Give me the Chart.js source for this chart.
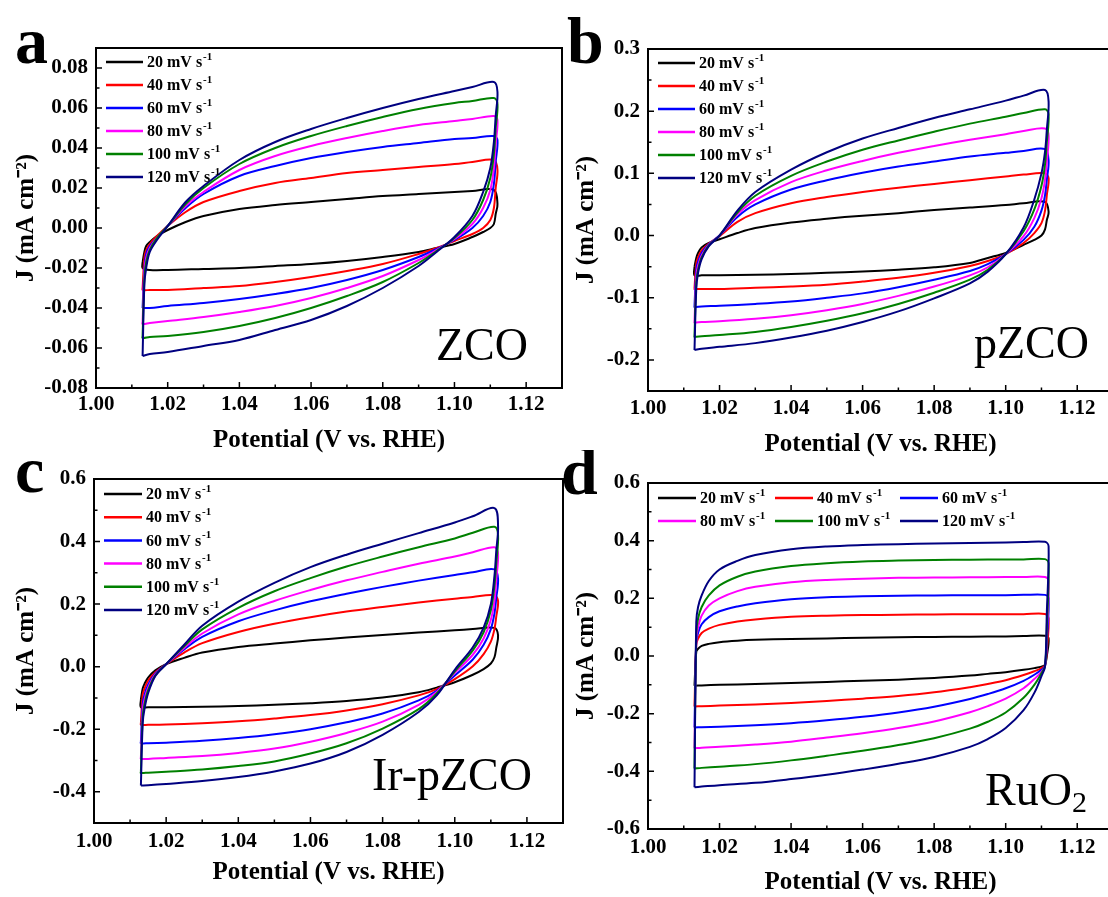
<!DOCTYPE html>
<html><head><meta charset="utf-8">
<script src="https://cdn.jsdelivr.net/npm/chart.js@4.4.1/dist/chart.umd.min.js"></script>
<style>
html,body{margin:0;padding:0;background:#fff;width:1108px;height:897px;overflow:hidden;position:relative;}
canvas{position:absolute;}
</style></head><body>
<canvas id="cA"></canvas><canvas id="cB"></canvas><canvas id="cC"></canvas><canvas id="cD"></canvas>
<script>
// ---------- data ----------
const scanRates = [20, 40, 60, 80, 100, 120];
const seriesColors = ['#000000', '#ff0000', '#0000ff', '#ff00ff', '#008000', '#000080'];
// anodic sweep potentials and cathodic sweep potentials (V vs. RHE)
const potentialUp = [1.013, 1.0135, 1.014, 1.015, 1.017, 1.02, 1.025, 1.03, 1.04, 1.05, 1.06, 1.07, 1.08, 1.09, 1.10, 1.105, 1.111];
const potentialDown = [1.112, 1.1115, 1.111, 1.11, 1.108, 1.105, 1.10, 1.095, 1.09, 1.08, 1.07, 1.06, 1.05, 1.04, 1.03, 1.02, 1.015, 1.013];

const xTickValues = [1.00, 1.02, 1.04, 1.06, 1.08, 1.10, 1.12];
const xTickLabels = ['1.00', '1.02', '1.04', '1.06', '1.08', '1.10', '1.12'];
const xMinorValues = [1.01, 1.03, 1.05, 1.07, 1.09, 1.11];

const yTicksA = [-0.08, -0.06, -0.04, -0.02, 0, 0.02, 0.04, 0.06, 0.08];
const yLabelsA = ['-0.08', '-0.06', '-0.04', '-0.02', '0.00', '0.02', '0.04', '0.06', '0.08'];
const yMinorA = [-0.07, -0.05, -0.03, -0.01, 0.01, 0.03, 0.05, 0.07];
const yTicksB = [-0.2, -0.1, 0, 0.1, 0.2, 0.3];
const yLabelsB = ['-0.2', '-0.1', '0.0', '0.1', '0.2', '0.3'];
const yMinorB = [-0.15, -0.05, 0.05, 0.15, 0.25];
const yTicksC = [-0.4, -0.2, 0, 0.2, 0.4, 0.6];
const yLabelsC = ['-0.4', '-0.2', '0.0', '0.2', '0.4', '0.6'];
const yMinorC = [-0.3, -0.1, 0.1, 0.3, 0.5];
const yTicksD = [-0.6, -0.4, -0.2, 0, 0.2, 0.4, 0.6];
const yLabelsD = ['-0.6', '-0.4', '-0.2', '0.0', '0.2', '0.4', '0.6'];
const yMinorD = [-0.5, -0.3, -0.1, 0.1, 0.3, 0.5];

// J (mA cm-2), one row per scan rate (20..120 mV/s)
const zcoUpJ = [
  [-0.017, -0.012, -0.009, -0.007, -0.004, -0.001, 0.003, 0.006, 0.0095, 0.0115, 0.013, 0.0145, 0.016, 0.017, 0.018, 0.0185, 0.019],
  [-0.030, -0.015, -0.011, -0.008, -0.004, 0.001, 0.008, 0.013, 0.0185, 0.0225, 0.025, 0.0275, 0.029, 0.0305, 0.032, 0.033, 0.034],
  [-0.040, -0.020, -0.013, -0.009, -0.005, 0.001, 0.010, 0.017, 0.026, 0.031, 0.035, 0.038, 0.0405, 0.0425, 0.0445, 0.045, 0.046],
  [-0.047, -0.022, -0.015, -0.010, -0.005, 0.001, 0.011, 0.018, 0.029, 0.036, 0.041, 0.045, 0.0485, 0.0515, 0.0535, 0.0545, 0.056],
  [-0.054, -0.025, -0.017, -0.011, -0.005, 0.001, 0.012, 0.020, 0.032, 0.040, 0.046, 0.051, 0.0555, 0.0595, 0.0625, 0.0635, 0.065],
  [-0.064, -0.028, -0.020, -0.012, -0.006, 0.001, 0.013, 0.021, 0.034, 0.043, 0.0495, 0.055, 0.060, 0.0645, 0.0685, 0.0705, 0.073]
];
const zcoDownJ = [
  [0.012, 0.007, 0.002, 0.000, -0.002, -0.0045, -0.008, -0.010, -0.012, -0.0145, -0.0165, -0.018, -0.019, -0.020, -0.0205, -0.021, -0.021, -0.020],
  [0.029, 0.020, 0.010, 0.004, 0.000, -0.003, -0.0065, -0.010, -0.013, -0.018, -0.0215, -0.0245, -0.027, -0.029, -0.030, -0.031, -0.031, -0.031],
  [0.044, 0.033, 0.022, 0.013, 0.006, 0.000, -0.006, -0.0105, -0.0145, -0.021, -0.026, -0.030, -0.033, -0.0355, -0.0375, -0.039, -0.040, -0.040],
  [0.054, 0.042, 0.030, 0.019, 0.010, 0.002, -0.0055, -0.011, -0.016, -0.024, -0.030, -0.035, -0.039, -0.042, -0.0445, -0.0465, -0.0475, -0.048],
  [0.062, 0.050, 0.037, 0.025, 0.014, 0.004, -0.005, -0.0115, -0.0175, -0.027, -0.034, -0.040, -0.045, -0.049, -0.052, -0.054, -0.0545, -0.055],
  [0.068, 0.056, 0.043, 0.030, 0.018, 0.006, -0.0045, -0.012, -0.019, -0.030, -0.039, -0.046, -0.051, -0.056, -0.059, -0.062, -0.063, -0.064]
];
const pzcoUpJ = [
  [-0.050, -0.036, -0.028, -0.019, -0.012, -0.006, 0.004, 0.012, 0.021, 0.027, 0.032, 0.036, 0.041, 0.045, 0.049, 0.052, 0.054],
  [-0.085, -0.045, -0.035, -0.024, -0.013, -0.001, 0.022, 0.036, 0.052, 0.062, 0.070, 0.077, 0.083, 0.089, 0.095, 0.098, 0.100],
  [-0.114, -0.055, -0.042, -0.028, -0.014, 0.000, 0.030, 0.050, 0.074, 0.089, 0.101, 0.111, 0.119, 0.127, 0.133, 0.136, 0.139],
  [-0.139, -0.065, -0.048, -0.032, -0.015, 0.000, 0.034, 0.057, 0.086, 0.105, 0.120, 0.133, 0.144, 0.154, 0.163, 0.168, 0.172],
  [-0.162, -0.075, -0.055, -0.035, -0.016, 0.000, 0.037, 0.064, 0.096, 0.119, 0.138, 0.153, 0.167, 0.180, 0.191, 0.197, 0.203],
  [-0.184, -0.085, -0.060, -0.038, -0.017, 0.000, 0.040, 0.070, 0.106, 0.134, 0.156, 0.173, 0.189, 0.203, 0.217, 0.225, 0.234]
];
const pzcoDownJ = [
  [0.038, 0.025, 0.010, 0.000, -0.007, -0.015, -0.028, -0.036, -0.044, -0.051, -0.055, -0.058, -0.060, -0.062, -0.063, -0.064, -0.064, -0.064],
  [0.092, 0.065, 0.040, 0.020, 0.004, -0.012, -0.030, -0.041, -0.049, -0.060, -0.068, -0.074, -0.079, -0.082, -0.084, -0.086, -0.086, -0.086],
  [0.120, 0.090, 0.065, 0.040, 0.014, -0.007, -0.030, -0.046, -0.057, -0.071, -0.083, -0.093, -0.100, -0.106, -0.110, -0.113, -0.114, -0.115],
  [0.160, 0.120, 0.090, 0.060, 0.028, -0.001, -0.030, -0.051, -0.064, -0.082, -0.097, -0.110, -0.120, -0.128, -0.134, -0.138, -0.139, -0.140],
  [0.195, 0.150, 0.115, 0.080, 0.042, 0.007, -0.030, -0.055, -0.071, -0.092, -0.110, -0.125, -0.137, -0.147, -0.155, -0.160, -0.162, -0.163],
  [0.215, 0.170, 0.135, 0.100, 0.058, 0.013, -0.030, -0.058, -0.077, -0.101, -0.122, -0.139, -0.153, -0.164, -0.173, -0.179, -0.182, -0.184]
];
const irpzcoUpJ = [
  [-0.105, -0.070, -0.055, -0.035, -0.012, 0.008, 0.028, 0.045, 0.063, 0.074, 0.084, 0.093, 0.101, 0.109, 0.116, 0.120, 0.124],
  [-0.180, -0.090, -0.070, -0.045, -0.018, 0.008, 0.045, 0.075, 0.111, 0.137, 0.158, 0.176, 0.191, 0.205, 0.217, 0.223, 0.228],
  [-0.240, -0.120, -0.090, -0.058, -0.022, 0.008, 0.055, 0.095, 0.145, 0.180, 0.209, 0.233, 0.255, 0.275, 0.293, 0.302, 0.311],
  [-0.290, -0.140, -0.105, -0.068, -0.025, 0.008, 0.060, 0.106, 0.167, 0.210, 0.245, 0.276, 0.303, 0.329, 0.352, 0.366, 0.382],
  [-0.335, -0.160, -0.120, -0.076, -0.028, 0.008, 0.065, 0.119, 0.188, 0.241, 0.283, 0.320, 0.352, 0.382, 0.410, 0.428, 0.447],
  [-0.380, -0.180, -0.135, -0.085, -0.030, 0.008, 0.070, 0.131, 0.208, 0.268, 0.318, 0.358, 0.393, 0.427, 0.461, 0.481, 0.507]
];
const irpzcoDownJ = [
  [0.100, 0.060, 0.030, 0.010, -0.008, -0.026, -0.050, -0.067, -0.082, -0.099, -0.110, -0.117, -0.122, -0.126, -0.128, -0.130, -0.130, -0.130],
  [0.210, 0.160, 0.120, 0.080, 0.040, 0.001, -0.040, -0.072, -0.092, -0.120, -0.140, -0.155, -0.166, -0.175, -0.181, -0.185, -0.186, -0.186],
  [0.280, 0.220, 0.170, 0.120, 0.070, 0.023, -0.028, -0.077, -0.108, -0.150, -0.178, -0.200, -0.216, -0.228, -0.237, -0.243, -0.245, -0.245],
  [0.360, 0.280, 0.210, 0.150, 0.090, 0.038, -0.020, -0.081, -0.122, -0.176, -0.212, -0.240, -0.262, -0.276, -0.286, -0.292, -0.295, -0.295],
  [0.420, 0.330, 0.260, 0.180, 0.110, 0.052, -0.015, -0.086, -0.136, -0.198, -0.245, -0.278, -0.303, -0.318, -0.329, -0.336, -0.339, -0.340],
  [0.450, 0.370, 0.290, 0.200, 0.125, 0.062, -0.010, -0.092, -0.145, -0.218, -0.273, -0.310, -0.335, -0.353, -0.366, -0.375, -0.379, -0.380]
];
const ruo2UpJ = [
  [-0.103, 0.015, 0.025, 0.035, 0.042, 0.048, 0.053, 0.056, 0.059, 0.061, 0.063, 0.065, 0.066, 0.067, 0.068, 0.069, 0.070],
  [-0.175, 0.040, 0.060, 0.080, 0.095, 0.108, 0.120, 0.127, 0.136, 0.140, 0.142, 0.143, 0.144, 0.145, 0.145, 0.145, 0.146],
  [-0.248, 0.050, 0.080, 0.110, 0.135, 0.155, 0.172, 0.183, 0.197, 0.204, 0.207, 0.209, 0.210, 0.211, 0.211, 0.212, 0.212],
  [-0.320, 0.060, 0.100, 0.140, 0.175, 0.200, 0.225, 0.240, 0.256, 0.264, 0.268, 0.271, 0.272, 0.273, 0.274, 0.274, 0.274],
  [-0.390, 0.080, 0.130, 0.170, 0.210, 0.245, 0.275, 0.293, 0.312, 0.322, 0.328, 0.331, 0.333, 0.334, 0.335, 0.335, 0.336],
  [-0.455, 0.120, 0.170, 0.210, 0.260, 0.300, 0.330, 0.350, 0.370, 0.380, 0.385, 0.388, 0.390, 0.392, 0.394, 0.395, 0.396]
];
const ruo2DownJ = [
  [0.060, 0.000, -0.030, -0.037, -0.042, -0.048, -0.056, -0.062, -0.068, -0.076, -0.082, -0.086, -0.090, -0.094, -0.097, -0.100, -0.102, -0.103],
  [0.130, 0.020, -0.032, -0.042, -0.053, -0.066, -0.084, -0.097, -0.108, -0.126, -0.139, -0.148, -0.156, -0.163, -0.168, -0.172, -0.174, -0.175],
  [0.200, 0.050, -0.034, -0.048, -0.065, -0.086, -0.112, -0.132, -0.149, -0.176, -0.196, -0.211, -0.223, -0.233, -0.240, -0.245, -0.247, -0.248],
  [0.260, 0.080, -0.035, -0.055, -0.080, -0.112, -0.148, -0.174, -0.195, -0.227, -0.250, -0.268, -0.283, -0.297, -0.307, -0.315, -0.318, -0.320],
  [0.320, 0.100, -0.035, -0.060, -0.100, -0.145, -0.196, -0.228, -0.252, -0.285, -0.309, -0.329, -0.346, -0.362, -0.375, -0.384, -0.388, -0.390],
  [0.380, 0.150, -0.035, -0.070, -0.128, -0.188, -0.250, -0.288, -0.315, -0.350, -0.374, -0.394, -0.412, -0.427, -0.440, -0.448, -0.453, -0.455]
];

// ---------- helpers ----------
const SERIF = '"Liberation Serif", "Times New Roman", serif';

function loopPoints(upJ, downJ) {
  const pts = potentialUp.map((e, i) => ({ x: e, y: upJ[i] }));
  potentialDown.forEach((e, i) => pts.push({ x: e, y: downJ[i] }));
  pts.push({ x: potentialUp[0], y: upJ[0] });
  return pts;
}

const cvDecor = {
  id: 'cvDecor',
  afterDraw(chart, args, o) {
    const { ctx, chartArea: a } = chart;
    const x = chart.scales.x, y = chart.scales.y;
    ctx.save();
    // inward ticks
    ctx.strokeStyle = '#000';
    ctx.lineWidth = 1.5;
    ctx.beginPath();
    const xt = (vals, len) => vals.forEach(v => { const p = x.getPixelForValue(v); ctx.moveTo(p, a.bottom); ctx.lineTo(p, a.bottom - len); });
    const yt = (vals, len) => vals.forEach(v => { const p = y.getPixelForValue(v); ctx.moveTo(a.left, p); ctx.lineTo(a.left + len, p); });
    xt(o.xMajor, 6); xt(o.xMinor, 3.5); yt(o.yMajor, 6); yt(o.yMinor, 3.5);
    ctx.stroke();
    // frame
    ctx.lineWidth = 2;
    ctx.strokeRect(a.left, a.top, a.right - a.left, a.bottom - a.top);
    // legend
    const lg = o.legend;
    chart.data.datasets.forEach((ds, i) => {
      const col = i % lg.cols, row = Math.floor(i / lg.cols);
      const x1 = a.left + lg.colOffsets[col];
      const yy = a.top + lg.top + row * lg.rowGap;
      ctx.strokeStyle = ds.borderColor;
      ctx.lineWidth = 2.5;
      ctx.beginPath(); ctx.moveTo(x1, yy); ctx.lineTo(x1 + lg.lineLen, yy); ctx.stroke();
      ctx.fillStyle = '#000';
      ctx.textAlign = 'left';
      ctx.textBaseline = 'middle';
      ctx.font = 'bold 16px ' + SERIF;
      const base = scanRates[i] + ' mV s';
      const tx = x1 + lg.lineLen + 4;
      ctx.fillText(base, tx, yy + 1);
      const w = ctx.measureText(base).width;
      ctx.font = 'bold 11px ' + SERIF;
      ctx.fillText('-1', tx + w + 1, yy - 5);
    });
    // sample name
    const s = o.sample;
    ctx.fillStyle = '#000';
    ctx.textBaseline = 'alphabetic';
    ctx.textAlign = 'right';
    let rx = a.right - s.right;
    const by = a.bottom - s.bottom;
    if (s.sub) {
      ctx.font = '30px ' + SERIF;
      ctx.fillText(s.sub, rx, by + 7);
      rx -= ctx.measureText(s.sub).width;
    }
    ctx.font = '46px ' + SERIF;
    ctx.fillText(s.text, rx, by);
    // panel letter
    ctx.textAlign = 'left';
    ctx.font = 'bold 66px ' + SERIF;
    ctx.fillText(o.letter.text, o.letter.x, o.letter.y);
    ctx.restore();
  }
};

function makePanel(id, box, area, yMin, yMax, yTicks, yLabels, yMinor, upJ, downJ, legend, sample, letter, xPad, xTitlePad) {
  const cv = document.getElementById(id);
  cv.width = box.w; cv.height = box.h;
  cv.style.left = box.l + 'px'; cv.style.top = box.t + 'px';
  cv.style.width = box.w + 'px'; cv.style.height = box.h + 'px';
  const datasets = scanRates.map((r, i) => ({
    label: r + ' mV s\u207B\u00B9',
    data: loopPoints(upJ[i], downJ[i]),
    borderColor: seriesColors[i],
    backgroundColor: seriesColors[i],
    borderWidth: 2,
    pointRadius: 0,
    showLine: true,
    fill: false,
    tension: 0.35,
    order: scanRates.length - i
  }));
  return new Chart(cv, {
    type: 'scatter',
    data: { datasets },
    options: {
      responsive: false,
      animation: false,
      events: [],
      layout: { padding: { left: 0, top: area.t - box.t, right: box.l + box.w - area.r, bottom: 0 } },
      plugins: {
        legend: { display: false },
        tooltip: { enabled: false },
        cvDecor: { xMajor: xTickValues, xMinor: xMinorValues, yMajor: yTicks, yMinor: yMinor, legend, sample,
          letter: { text: letter.text, x: letter.x - box.l, y: letter.y - box.t } }
      },
      scales: {
        x: {
          type: 'linear', position: 'bottom', min: 1.0, max: 1.13,
          afterBuildTicks: s => { s.ticks = xTickValues.map(v => ({ value: v })); },
          afterFit: s => { s.height = box.t + box.h - area.b; },
          grid: { display: false, drawTicks: false },
          border: { display: false },
          ticks: { autoSkip: false, maxRotation: 0, padding: xPad, color: '#000',
            font: { family: SERIF, size: 21, weight: 'bold' },
            callback: (v, i) => xTickLabels[i] },
          title: { display: true, text: 'Potential (V vs. RHE)', color: '#000',
            font: { family: SERIF, size: 25, weight: 'bold', lineHeight: 1 },
            padding: { top: 0, bottom: xTitlePad } }
        },
        y: {
          type: 'linear', position: 'left', min: yMin, max: yMax,
          afterBuildTicks: s => { s.ticks = yTicks.map(v => ({ value: v })); },
          afterFit: s => { s.width = area.l - box.l; },
          grid: { display: false, drawTicks: false },
          border: { display: false },
          ticks: { autoSkip: false, padding: 8, color: '#000',
            font: { family: SERIF, size: 21, weight: 'bold' },
            callback: (v, i) => yLabels[i] },
          title: { display: true, text: 'J (mA cm\u207B\u00B2)', color: '#000',
            font: { family: SERIF, size: 25, weight: 'bold', lineHeight: 1 },
            padding: { top: 14, bottom: 0 } }
        }
      }
    },
    plugins: [cvDecor]
  });
}

const legendColumn = { cols: 1, colOffsets: [10], top: 14, rowGap: 23, lineLen: 37 };
const legendGrid = { cols: 3, colOffsets: [10, 127, 252], top: 15, rowGap: 23, lineLen: 38 };

makePanel('cA', { l: 0, t: 0, w: 580, h: 480 }, { l: 96, t: 48, r: 562, b: 388 },
  -0.08, 0.09, yTicksA, yLabelsA, yMinorA, zcoUpJ, zcoDownJ, legendColumn,
  { text: 'ZCO', right: 34, bottom: 28 }, { text: 'a', x: 15, y: 63 }, 4, 27);
makePanel('cB', { l: 560, t: 0, w: 560, h: 480 }, { l: 648, t: 49, r: 1113, b: 391 },
  -0.25, 0.3, yTicksB, yLabelsB, yMinorB, pzcoUpJ, pzcoDownJ, legendColumn,
  { text: 'pZCO', right: 24, bottom: 33 }, { text: 'b', x: 567, y: 63 }, 5, 23);
makePanel('cC', { l: 0, t: 450, w: 580, h: 447 }, { l: 94, t: 479, r: 563, b: 823 },
  -0.5, 0.6, yTicksC, yLabelsC, yMinorC, irpzcoUpJ, irpzcoDownJ, { cols: 1, colOffsets: [10], top: 15, rowGap: 23.2, lineLen: 38 },
  { text: 'Ir-pZCO', right: 31, bottom: 33 }, { text: 'c', x: 15, y: 492 }, 6, 12);
makePanel('cD', { l: 560, t: 450, w: 560, h: 447 }, { l: 648, t: 483, r: 1113, b: 829 },
  -0.6, 0.6, yTicksD, yLabelsD, yMinorD, ruo2UpJ, ruo2DownJ, legendGrid,
  { text: 'RuO', sub: '2', right: 26, bottom: 24 }, { text: 'd', x: 561, y: 494 }, 6, 2);
</script>
</body></html>
